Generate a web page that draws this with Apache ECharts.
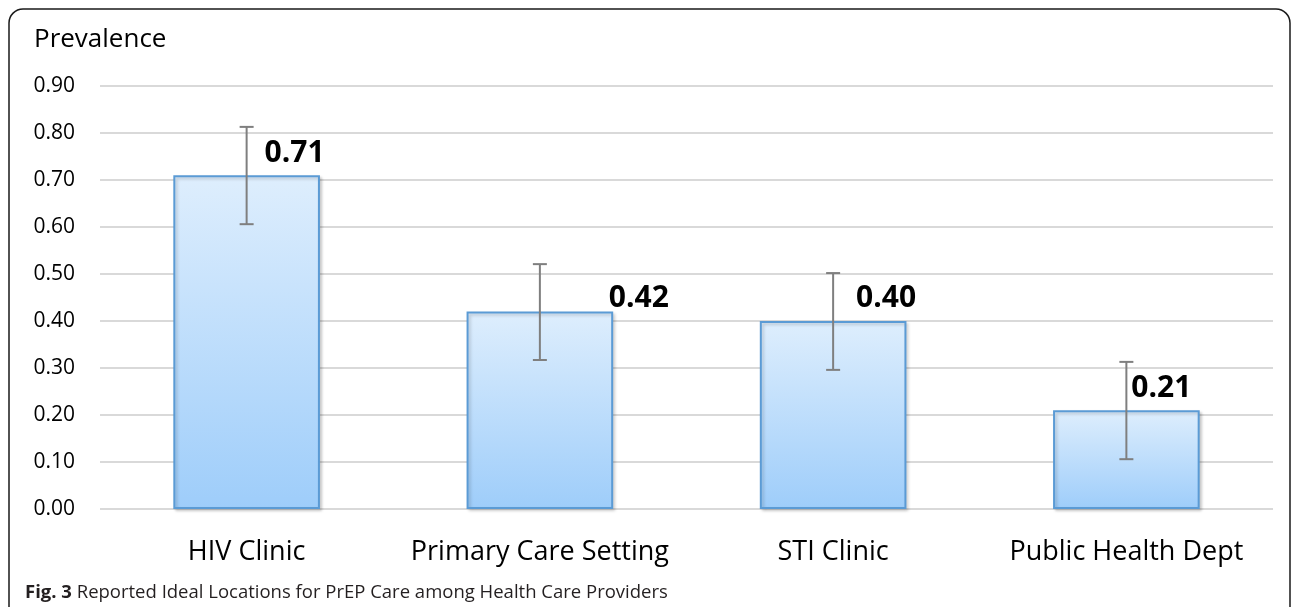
<!DOCTYPE html>
<html>
<head>
<meta charset="utf-8">
<script src="https://cdn.jsdelivr.net/npm/echarts@6/dist/echarts.min.js"></script>
<style>
  html, body { margin: 0; padding: 0; background: #fff; }
  #chart { width: 1292px; height: 607px; }
</style>
</head>
<body>
<div id="chart"></div>
<script>
// data
var categories = ["HIV Clinic", "Primary Care Setting", "STI Clinic", "Public Health Dept"];
var prevalence = [0.71, 0.42, 0.40, 0.21];
var errLow = [0.606, 0.317, 0.296, 0.106];
var errHigh = [0.813, 0.521, 0.502, 0.313];

var font = "'Open Sans', 'DejaVu Sans', sans-serif";

// where each value label sits relative to its bar (hand-placed in the original)
var labelOffsets = [[48, -7], [99, 2], [53, -8], [35, -7]];

var chart = echarts.init(document.getElementById("chart"));

var barData = prevalence.map(function (v, i) {
  return {
    value: v,
    label: { offset: labelOffsets[i] }
  };
});

var errData = categories.map(function (c, i) {
  return [i, errLow[i], errHigh[i]];
});

chart.setOption({
  animation: false,
  grid: { left: 100, right: 19, top: 86, bottom: 98 },
  title: {
    text: "{b|Fig. 3} Reported Ideal Locations for PrEP Care among Health Care Providers",
    left: 20,
    top: 578,
    textStyle: {
      fontFamily: font,
      fontSize: 18.5,
      fontWeight: "normal",
      color: "#231f20",
      rich: {
        b: { fontFamily: font, fontSize: 18.5, fontWeight: "bold", color: "#231f20" }
      }
    }
  },
  graphic: [
    {
      type: "rect",
      shape: { x: 9, y: 9, width: 1281, height: 640, r: 14 },
      style: { fill: "none", stroke: "#1a1a1a", lineWidth: 1.5 },
      silent: true
    },
    {
      type: "text",
      left: 34,
      top: 27,
      style: { text: "Prevalence", font: "26px " + font, fill: "#000" }
    }
  ],
  xAxis: {
    type: "category",
    data: categories,
    axisLine: { show: false },
    axisTick: { show: false },
    axisLabel: { interval: 0, fontFamily: font, fontSize: 27, color: "#000", margin: 30 }
  },
  yAxis: {
    type: "value",
    min: 0,
    max: 0.9,
    interval: 0.1,
    axisLine: { show: false },
    axisTick: { show: false },
    splitLine: { lineStyle: { color: "#d9d9d9", width: 2 } },
    axisLabel: {
      fontFamily: font,
      fontSize: 21,
      color: "#000",
      margin: 25,
      formatter: function (v) { return v.toFixed(2); }
    }
  },
  series: [
    {
      type: "bar",
      data: barData,
      barWidth: "50%",
      itemStyle: {
        color: new echarts.graphic.LinearGradient(0, 0, 0, 1, [
          { offset: 0, color: "#deeefd" },
          { offset: 1, color: "#9ecdfa" }
        ]),
        borderColor: "#5b9bd5",
        borderWidth: 2,
        shadowColor: "rgba(0,0,0,0.18)",
        shadowBlur: 3,
        shadowOffsetX: 2,
        shadowOffsetY: 2
      },
      label: {
        show: true,
        position: "top",
        distance: 0,
        fontFamily: font,
        fontSize: 30,
        fontWeight: "bold",
        color: "#000",
        formatter: function (p) { return p.value.toFixed(2); }
      },
      z: 2
    },
    {
      type: "custom",
      data: errData,
      z: 5,
      renderItem: function (params, api) {
        var lo = api.coord([api.value(0), api.value(1)]);
        var hi = api.coord([api.value(0), api.value(2)]);
        var cap = 7;
        var st = { stroke: "#7f7f7f", lineWidth: 2 };
        return {
          type: "group",
          children: [
            { type: "line", shape: { x1: lo[0], y1: lo[1], x2: hi[0], y2: hi[1] }, style: st },
            { type: "line", shape: { x1: lo[0] - cap, y1: lo[1], x2: lo[0] + cap, y2: lo[1] }, style: st },
            { type: "line", shape: { x1: hi[0] - cap, y1: hi[1], x2: hi[0] + cap, y2: hi[1] }, style: st }
          ]
        };
      }
    }
  ]
});
</script>
</body>
</html>
